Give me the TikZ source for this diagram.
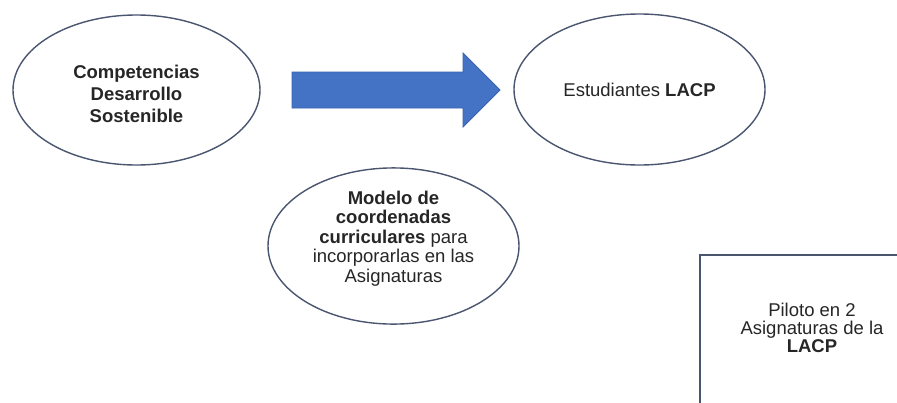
\documentclass[tikz,border=0pt]{standalone}
\usepackage{fontspec}
\setmainfont{Liberation Sans}
\usetikzlibrary{shapes.geometric}
\definecolor{edgegray}{HTML}{4A5570}
\definecolor{arrowfill}{HTML}{4472C4}
\definecolor{arrowedge}{HTML}{3A64AE}
\definecolor{txt}{HTML}{262626}
\begin{document}
\begin{tikzpicture}[x=1pt,y=1pt,
  oval/.style={ellipse,draw=edgegray,line width=1.4pt,inner sep=0pt,align=center,text=txt},
  pilotbox/.style={rectangle,draw=edgegray,line width=1.6pt,inner sep=0pt},
  bodytext/.style={align=center,text=txt,inner sep=0pt}]
\useasboundingbox (0,0) rectangle (897,-402);
\clip (0,0) rectangle (897,-402);
\fill[white] (0,0) rectangle (897,-402);
% ellipses
\node[oval,minimum width=247pt,minimum height=150pt,
  font=\fontsize{18.5}{22}\selectfont\bfseries] (comp) at (136.5,-90)
  {\rule{0pt}{21pt}Competencias\\Desarrollo\\Sostenible};
\node[oval,minimum width=251pt,minimum height=151pt,
  font=\fontsize{18.5}{22}\selectfont] (est) at (639.5,-89.5)
  {Estudiantes \textbf{LACP}};
\node[oval,minimum width=251pt,minimum height=152pt,
  font=\fontsize{18.5}{19.5}\selectfont] (modelo) at (393.5,-246)
  {\textbf{Modelo de}\\\textbf{coordenadas}\\\textbf{curriculares} para\\incorporarlas en las\\Asignaturas\rule[-19pt]{0pt}{19pt}};
% block arrow
\filldraw[fill=arrowfill,draw=arrowedge,line width=0.8pt]
  (292,-72) -- (463,-72) -- (463,-53) -- (500,-90) -- (463,-127)
  -- (463,-108) -- (292,-108) -- cycle;
% pilot box
\node[pilotbox,minimum width=240pt,minimum height=170pt,anchor=north west] (pilot) at (699,-254) {};
\node[bodytext,font=\fontsize{18.5}{18}\selectfont] (pilottext) at (812,-328)
  {Piloto en 2\\Asignaturas de la\\\textbf{LACP}};
\end{tikzpicture}
\end{document}
